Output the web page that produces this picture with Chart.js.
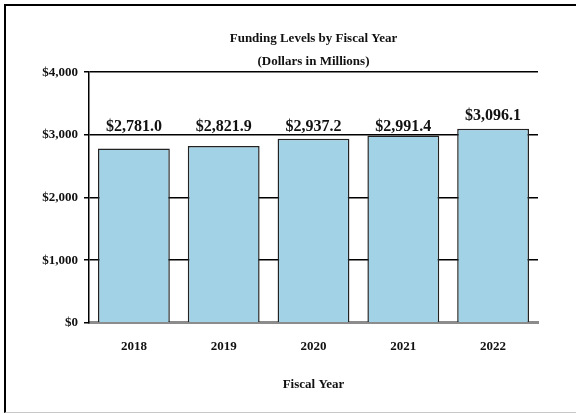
<!DOCTYPE html>
<html>
<head>
<meta charset="utf-8">
<script src="https://cdn.jsdelivr.net/npm/chart.js@4.4.1/dist/chart.umd.min.js"></script>
<style>
  html, body { margin: 0; padding: 0; background: #fff; overflow: hidden; }
  #frame {
    position: absolute; left: 4px; top: 4px; width: 580px; height: 406px;
    border-top: 2px solid #000; border-left: 2px solid #000; border-bottom: 1px solid #c8c8c8;
  }
  #funding-chart { position: absolute; left: 0; top: 0; }
</style>
</head>
<body>
<div id="frame"></div>
<canvas id="funding-chart" width="576" height="414"></canvas>
<script>
const ctx = document.getElementById('funding-chart');

// fiscal years and funding (millions of dollars)
var years = ['2018', '2019', '2020', '2021', '2022'];
var funding = [2781.0, 2821.9, 2937.2, 2991.4, 3096.1];
var yTicks = [0, 1000, 2000, 3000, 4000];

const serif = '"Liberation Serif", "Times New Roman", serif';

function money(v, digits) {
    return '$' + v.toLocaleString('en-US', { minimumFractionDigits: digits, maximumFractionDigits: digits });
}

// value labels above the bars
const barLabels = {
    id: 'barLabels',
    afterDatasetsDraw(chart) {
        const c = chart.ctx;
        const y = chart.scales.y;
        const meta = chart.getDatasetMeta(0);
        c.save();
        c.font = 'bold 16px ' + serif;
        c.fillStyle = '#111';
        c.textAlign = 'center';
        c.textBaseline = 'alphabetic';
        meta.data.forEach(function (bar, i) {
            var v = funding[i];
            var base = v >= 3000 ? bar.y - 9 : y.getPixelForValue(3000) - 4;
            c.fillText(money(v, 1), bar.x, base);
        });
        c.restore();
    }
};

const data = {
    labels: years,
    datasets: [
      {
        label: 'Funding',
        data: funding,
        backgroundColor: '#a2d2e6',
        borderColor: '#222',
        borderWidth: 1.5,
        borderSkipped: 'bottom',
        barPercentage: 0.8,
        categoryPercentage: 1.0
      }
    ]
};

const config = {
    type: 'bar',
    data: data,
    plugins: [barLabels],
    options: {
      responsive: false,
      animation: false,
      layout: {
        padding: { left: 0, right: 38, top: 8, bottom: 18 }
      },
      plugins: {
        legend: { display: false },
        tooltip: { enabled: false },
        title: {
          display: true,
          fullSize: false,
          text: ['Funding Levels by Fiscal Year', '(Dollars in Millions)'],
          color: '#111',
          font: { family: serif, size: 13, weight: 'bold', lineHeight: 1.7 },
          padding: { top: 20, bottom: 0 }
        }
      },
      scales: {
        x: {
          grid: { display: false, drawTicks: false },
          border: { color: '#8c8c8c', width: 3 },
          ticks: {
            color: '#111',
            padding: 16,
            font: { family: serif, size: 13, weight: 'bold' }
          },
          title: {
            display: true,
            text: 'Fiscal Year',
            color: '#111',
            font: { family: serif, size: 13, weight: 'bold' },
            padding: { top: 6, bottom: 4 }
          }
        },
        y: {
          min: 0,
          max: 4000,
          afterFit: function (scale) { scale.width = 89; },
          afterBuildTicks: function (scale) {
            scale.ticks = yTicks.map(function (v) { return { value: v }; });
          },
          grid: {
            color: (c) => c.tick && c.tick.value === 0 ? 'rgba(0,0,0,0)' : '#000',
            tickColor: '#000',
            lineWidth: 1.5,
            tickLength: 5
          },
          border: { color: '#000', width: 1.5 },
          ticks: {
            color: '#111',
            padding: 6,
            font: { family: serif, size: 13, weight: 'bold' },
            callback: (v) => money(v, 0)
          }
        }
      }
    }
};

new Chart(ctx, config);
</script>
</body>
</html>
